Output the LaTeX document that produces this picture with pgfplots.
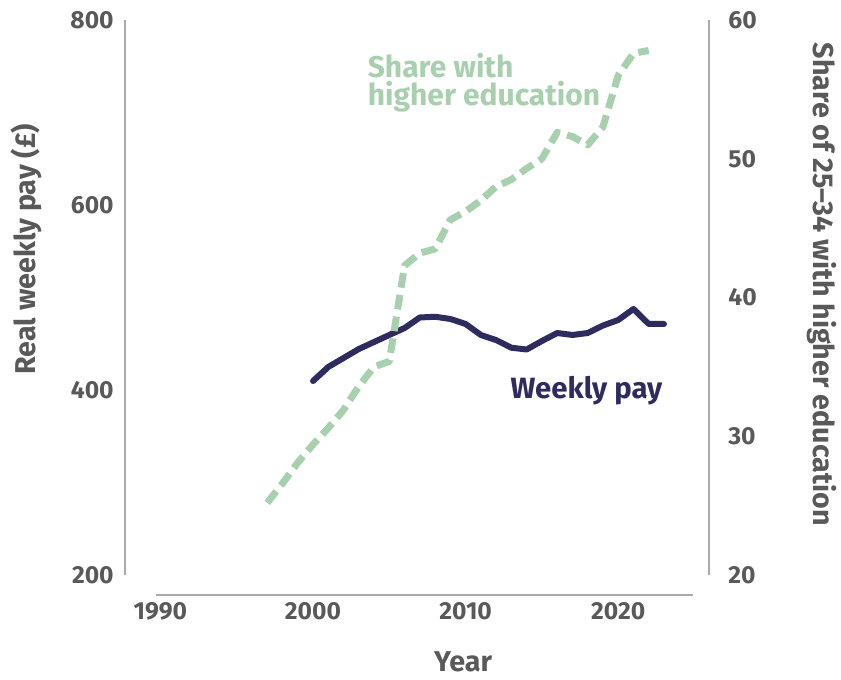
\documentclass[border=0pt]{standalone}
\usepackage{fontspec}
\setmainfont{Fira Sans}
\usepackage{pgfplots}
\pgfplotsset{compat=1.18}

\definecolor{payblue}{HTML}{2E2B5F}
\definecolor{edugreen}{HTML}{A8CFAE}
\definecolor{txtgray}{HTML}{595959}
\definecolor{axgray}{HTML}{A9A9A9}

% real weekly pay (GBP), 2000-2023
\pgfplotstableread{
year pay
2000 409.7
2001 424.9
2002 434.6
2003 444.3
2004 451.9
2005 459.5
2006 467.0
2007 478.4
2008 479.2
2009 476.8
2010 471.4
2011 459.5
2012 454.0
2013 445.7
2014 443.8
2015 453.0
2016 461.6
2017 459.5
2018 461.6
2019 469.7
2020 475.7
2021 487.6
2022 471.4
2023 471.4
}\paytable

% share of 25-34 with higher education (%), 1997-2022
\pgfplotstableread{
year share
1997 25.2
1998 26.6
1999 28.1
2000 29.4
2001 30.6
2002 31.9
2003 33.6
2004 35.0
2005 35.4
2006 42.3
2007 43.2
2008 43.5
2009 45.6
2010 46.2
2011 47.0
2012 48.0
2013 48.5
2014 49.3
2015 50.0
2016 51.9
2017 51.6
2018 51.0
2019 52.3
2020 56.0
2021 57.6
2022 57.8
}\edutable

\newcommand\labfont{\bfseries\fontsize{21.5}{24}\selectfont}

\pgfplotsset{
  chart/.style={
    width=438pt, height=416.25pt, scale only axis,
    xmin=1987.68, xmax=2025.95,
    clip=false,
    major tick length=0pt,
    tick label style={font=\bfseries\fontsize{18.5}{20}\selectfont, text=txtgray},
    /pgf/number format/assume math mode=true,
    /pgf/number format/1000 sep={},
  }
}

\begin{document}
\begin{tikzpicture}
\begin{axis}[chart,
  axis y line*=left, axis x line*=bottom,
  y axis line style={axgray, line width=1.5pt, -},
  x axis line style={draw=none},
  ymin=200, ymax=800, ytick={200,400,600,800},
  xtick={1990,2000,2010,2020},
  yticklabel style={xshift=-5pt},
  xticklabel style={yshift=-17pt},
  xlabel={Year},
  ylabel={Real weekly pay (£)},
  every axis x label/.style={at={(rel axis cs:0.579,0)}, anchor=center, yshift=-65.25pt, font=\labfont, text=txtgray},
  every axis y label/.style={at={(rel axis cs:0,0.587)}, xshift=-74.25pt, anchor=center, rotate=90, font=\labfont, text=txtgray},
]
\draw[axgray, line width=1.5pt] (axis cs:1989.71,178.4) -- (axis cs:2024.9,178.4);
\addplot[payblue, line width=4.5pt, line cap=round, line join=round] table[x=year, y=pay] {\paytable};
\node[anchor=east, font=\bfseries\fontsize{22}{24}\selectfont, text=payblue] at (axis cs:2023.2,398.9) {Weekly pay};
\end{axis}

\begin{axis}[chart,
  axis y line*=right, axis x line=none,
  y axis line style={axgray, line width=1.5pt, -},
  ymin=20, ymax=60, ytick={20,30,40,50,60},
  yticklabel style={xshift=11pt},
  ylabel={Share of 25–34 with higher education},
  every axis y label/.style={at={(rel axis cs:1,0.524)}, xshift=84.75pt, anchor=center, rotate=-90, font=\labfont, text=txtgray},
]
\addplot[edugreen, line width=5.25pt, dash pattern=on 11pt off 5.5pt, line join=round] table[x=year, y=share] {\edutable};
\node[anchor=north west, align=left, inner sep=2pt, font=\bfseries\fontsize{22.5}{21}\selectfont, text=edugreen] at (axis cs:2003.4,57.8) {Share with\\higher education};
\end{axis}

\pgfresetboundingbox
\path (-93.75pt,-78pt) rectangle (537pt,431.25pt);
\end{tikzpicture}
\end{document}
